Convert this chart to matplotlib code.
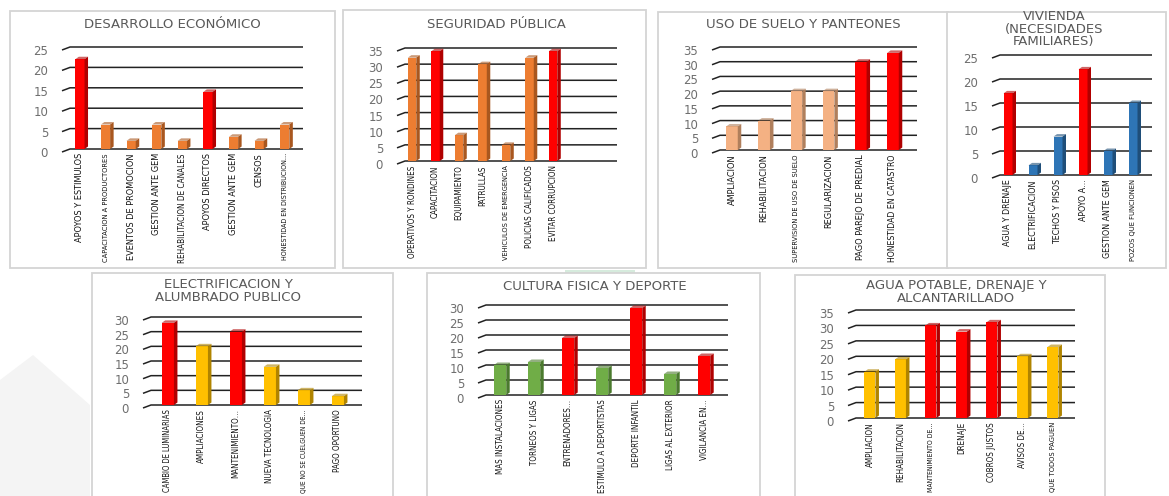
import matplotlib
matplotlib.use("Agg")
import matplotlib.pyplot as plt
from matplotlib import font_manager
from matplotlib.patches import Polygon, Rectangle
from matplotlib.transforms import ScaledTranslation

W, H, DPI = 1169, 496, 100

RED, RED_SIDE = "#FF0000", "#B00000"

# ---- data -------------------------------------------------------------
DES_LABELS = ["APOYOS Y ESTIMULOS", "CAPACITACION A PRODUCTORES", "EVENTOS DE PROMOCION",
              "GESTION ANTE GEM", "REHABILITACION DE CANALES", "APOYOS DIRECTOS",
              "GESTION ANTE GEM", "CENSOS", "HONESTIDAD EN DISTRIBUCION…"]
DES_VALUES = [22, 6, 2, 6, 2, 14, 3, 2, 6]
DES_PRIORITY = [1, 0, 0, 0, 0, 1, 0, 0, 0]

SEG_LABELS = ["OPERATIVOS Y RONDINES", "CAPACITACION", "EQUIPAMIENTO", "PATRULLAS",
              "VEHICULOS DE EMERGENCIA", "POLICIAS CALIFICADOS", "EVITAR CORRUPCION"]
SEG_VALUES = [32, 34, 8, 30, 5, 32, 34]
SEG_PRIORITY = [0, 1, 0, 0, 0, 0, 1]

USO_LABELS = ["AMPLIACION", "REHABILITACION", "SUPERVISION DE USO DE SUELO",
              "REGULARIZACION", "PAGO PAREJO DE PREDIAL", "HONESTIDAD EN CATASTRO"]
USO_VALUES = [8, 10, 20, 20, 30, 33]
USO_PRIORITY = [0, 0, 0, 0, 1, 1]

VIV_LABELS = ["AGUA Y DRENAJE", "ELECTRIFICACION", "TECHOS Y PISOS", "APOYO A…",
              "GESTION ANTE GEM", "POZOS QUE FUNCIONEN"]
VIV_VALUES = [17, 2, 8, 22, 5, 15]
VIV_PRIORITY = [1, 0, 0, 1, 0, 0]

ELE_LABELS = ["CAMBIO DE LUMINARIAS", "AMPLIACIONES", "MANTENIMIENTO…", "NUEVA TECNOLOGIA",
              "QUE NO SE CUELGUEN DE…", "PAGO OPORTUNO"]
ELE_VALUES = [28, 20, 25, 13, 5, 3]
ELE_PRIORITY = [1, 0, 1, 0, 0, 0]

CUL_LABELS = ["MAS INSTALACIONES", "TORNEOS Y LIGAS", "ENTRENADORES…", "ESTIMULO A DEPORTISTAS",
              "DEPORTE INFANTIL", "LIGAS AL EXTERIOR", "VIGILANCIA EN…"]
CUL_VALUES = [10, 11, 19, 9, 29, 7, 13]
CUL_PRIORITY = [0, 0, 1, 0, 1, 0, 1]

AGU_LABELS = ["AMPLIACION", "REHABILITACION", "MANTENIMIENTO DE…", "DRENAJE",
              "COBROS JUSTOS", "AVISOS DE…", "QUE TODOS PAGUEN"]
AGU_VALUES = [15, 19, 30, 28, 31, 20, 23]
AGU_PRIORITY = [0, 0, 1, 1, 1, 0, 0]

# ---- layout (pixels) ---------------------------------------------------
PANELS = [
    dict(title="DESARROLLO ECONÓMICO", labels=DES_LABELS, values=DES_VALUES, prio=DES_PRIORITY,
         color="#ED7D31", side="#A9571F", ymax=25, box=(10, 11, 335, 268),
         rect=(62, 303, 149, 47), first=0.7, spacing=25.6, title_xy=(172, 25), lsize=6.6),
    dict(title="SEGURIDAD PÚBLICA", labels=SEG_LABELS, values=SEG_VALUES, prio=SEG_PRIORITY,
         color="#ED7D31", side="#A9571F", ymax=35, box=(343, 10, 646, 268),
         rect=(397, 617, 161, 48), first=0.64, spacing=23.5, title_xy=(496, 25), lsize=5.8),
    dict(title="USO DE SUELO Y PANTEONES", labels=USO_LABELS, values=USO_VALUES, prio=USO_PRIORITY,
         color="#F4B183", side="#B07F5C", ymax=35, box=(658, 12, 948, 268),
         rect=(712, 917, 150, 47), first=0.62, spacing=32.2, title_xy=(803, 24), lsize=6.6),
    dict(title="VIVIENDA\n(NECESIDADES\nFAMILIARES)", labels=VIV_LABELS, values=VIV_VALUES,
         prio=VIV_PRIORITY, color="#2E75B6", side="#1F4E79", ymax=25, box=(947, 12, 1166, 268),
         rect=(992, 1152, 175, 55), first=0.64, spacing=25.0, title_xy=(1054, 29), lsize=6.3),
    dict(title="ELECTRIFICACION Y\nALUMBRADO PUBLICO", labels=ELE_LABELS, values=ELE_VALUES,
         prio=ELE_PRIORITY, color="#FFC000", side="#B08400", ymax=30, box=(92, 273, 393, 497),
         rect=(143, 362, 405, 317), first=0.73, spacing=34.0, title_xy=(228, 291), lsize=5.8),
    dict(title="CULTURA FISICA Y DEPORTE", labels=CUL_LABELS, values=CUL_VALUES, prio=CUL_PRIORITY,
         color="#70AD47", side="#4B7A2E", ymax=30, box=(427, 273, 760, 497),
         rect=(478, 728, 395, 305), first=0.65, spacing=34.0, title_xy=(595, 286), lsize=5.8),
    dict(title="AGUA POTABLE, DRENAJE Y\nALCANTARILLADO", labels=AGU_LABELS, values=AGU_VALUES,
         prio=AGU_PRIORITY, color="#FFC000", side="#B08400", ymax=35, box=(795, 275, 1105, 497),
         rect=(848, 1075, 418, 310), first=0.72, spacing=30.5, title_xy=(956, 292), lsize=5.8),
]

GRAY = "#595959"
TICK_GRAY = "#6E6E6E"


def narrow_font():
    # Excel used a condensed face for the category labels; take the closest one installed
    files = [f.fname for f in font_manager.fontManager.ttflist]
    keys = ["liberationsansnarrow-regular", "dejavusanscondensed.ttf", "robotocondensed-regular",
            "roboto_condensed-regular", "opensans_condensed-regular", "notosans-condensed"]
    for key in keys:
        for fn in files:
            if key in fn.lower().replace(" ", ""):
                return font_manager.FontProperties(fname=fn)
    return font_manager.FontProperties(family="DejaVu Sans")


LABEL_FP = narrow_font()

fig = plt.figure(figsize=(W / DPI, H / DPI), dpi=DPI)
fig.patch.set_facecolor("white")

# faint slide watermark behind the charts
fig.add_artist(Polygon([(0, 1 - 380 / H), (33 / W, 1 - 355 / H), (90 / W, 1 - 405 / H),
                        (90 / W, 0), (0, 0)], closed=True, transform=fig.transFigure,
                       facecolor="#F4F4F4", edgecolor="none", zorder=-3))
fig.add_artist(Rectangle((565 / W, 1 - 273 / H), 70 / W, 3 / H, transform=fig.transFigure,
                         facecolor="#D6EBDD", edgecolor="none", zorder=-3))


def draw_panel(p):
    bx0, by0, bx1, by1 = p["box"]
    fig.add_artist(Rectangle((bx0 / W, 1 - by1 / H), (bx1 - bx0) / W, (by1 - by0) / H,
                             transform=fig.transFigure, facecolor="white", edgecolor="#D4D4D4",
                             lw=1.3, zorder=-2))
    fig.text(p["title_xy"][0] / W, 1 - p["title_xy"][1] / H, p["title"], ha="center", va="center",
             fontsize=9.5, color=GRAY, linespacing=0.95)

    left, right, y0, ytop = p["rect"]
    wpx, hpx = right - left, y0 - ytop
    ax = fig.add_axes([left / W, 1 - y0 / H, wpx / W, hpx / H])
    ax.set_facecolor("none")
    for s in ax.spines.values():
        s.set_visible(False)

    sp = p["spacing"]
    x0 = -p["first"]
    x1 = x0 + wpx / sp
    ymax = p["ymax"]
    ax.set_xlim(x0, x1)
    ax.set_ylim(0, ymax)
    dxp = 1.0 / sp            # data units per pixel in x
    dyp = ymax / hpx          # data units per pixel in y

    ticks = list(range(0, ymax + 1, 5))
    for v in ticks:
        ax.plot([x0, x0 + 8 * dxp, x1], [v - 3 * dyp, v, v], color="#222222", lw=1.1,
                zorder=1, clip_on=False, solid_capstyle="butt")

    n = len(p["values"])
    fw = 0.36
    sdx, sdy = 3.5 * dxp, 2.5 * dyp
    for i, (v, pr) in enumerate(zip(p["values"], p["prio"])):
        front = RED if pr else p["color"]
        side = RED_SIDE if pr else p["side"]
        ax.bar(i, v, width=fw, color=front, zorder=3)
        xr = i + fw / 2
        xl = i - fw / 2
        ax.add_patch(Polygon([(xr, 0), (xr + sdx, sdy), (xr + sdx, v + sdy), (xr, v)],
                             closed=True, facecolor=side, edgecolor="none", zorder=3))
        ax.add_patch(Polygon([(xl, v), (xl + sdx, v + sdy), (xr + sdx, v + sdy), (xr, v)],
                             closed=True, facecolor=side, edgecolor="none", zorder=3, alpha=0.6))

    ax.set_yticks(ticks)
    ax.set_yticklabels([str(t) for t in ticks])
    ax.tick_params(axis="y", length=0, pad=10, labelsize=8.5, labelcolor=TICK_GRAY)
    off = ScaledTranslation(0, -3 / DPI, fig.dpi_scale_trans)
    for lbl in ax.get_yticklabels():
        lbl.set_transform(lbl.get_transform() + off)

    fp = LABEL_FP.copy()
    fp.set_size(p["lsize"])
    ax.set_xticks(range(n))
    ax.set_xticklabels(p["labels"], rotation=90, fontproperties=fp, color="#111111")
    ax.tick_params(axis="x", length=0, pad=3)
    # longest label may not run past the bottom of its box
    cap = (by1 - 6 if by1 < H else H - 3) - (y0 + 5)
    return ax, cap


axes = [draw_panel(panel) for panel in PANELS]

fig.canvas.draw()
renderer = fig.canvas.get_renderer()
for ax, cap in axes:
    for lbl in ax.get_xticklabels():
        h = lbl.get_window_extent(renderer).height
        if h > cap:
            lbl.set_fontsize(lbl.get_fontsize() * cap / h)

fig.savefig("out.png", dpi=DPI, facecolor="white")
